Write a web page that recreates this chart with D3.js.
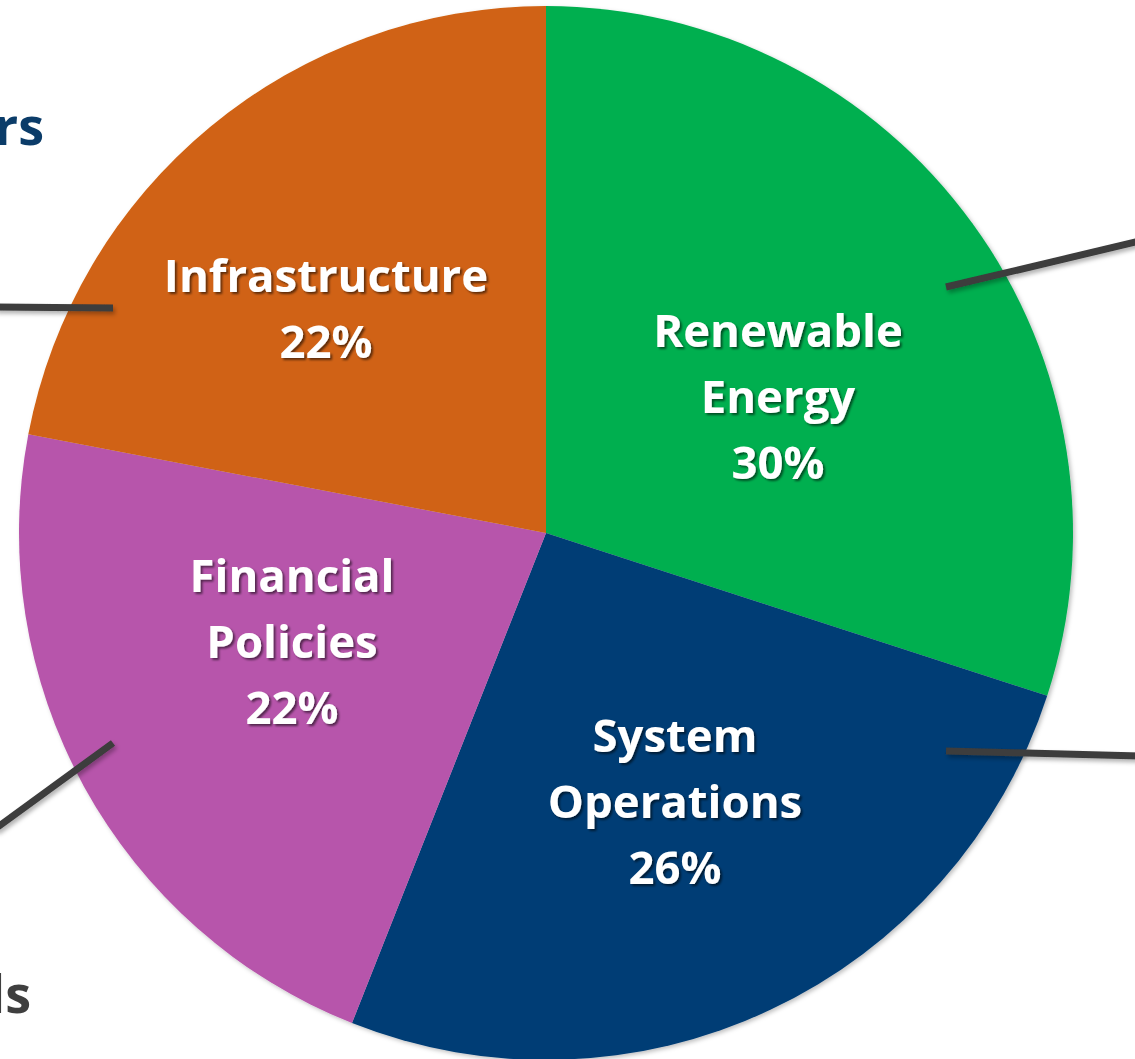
<!DOCTYPE html>
<html><head><meta charset="utf-8">
<script src="https://cdn.jsdelivr.net/npm/d3@7"></script>
<style>html,body{margin:0;padding:0;background:#fff;overflow:hidden}</style>
</head><body>
<svg id="chart" width="1135" height="1059"></svg>
<script>
const categories = ["Renewable Energy", "System Operations", "Financial Policies", "Infrastructure"];
const values = [30, 26, 22, 22];
const labelLines = [["Renewable", "Energy", "30%"], ["System", "Operations", "26%"], ["Financial", "Policies", "22%"], ["Infrastructure", "22%"]];
const colors = ["#00AF50", "#003D74", "#B754AB", "#D06212"];
// leader lines toward off-canvas callouts: [x1,y1,x2,y2]
const leaders = [[946, 287, 1140, 241], [946, 751, 1140, 756], [113, 308, -5, 307], [113, 743, -5, 829]];
const sideTexts = [{t: "Drivers", x: 44, y: 145, c: "#0B3C69"}, {t: "Goals", x: 31, y: 1013, c: "#3F3F3F"}];

const svg = d3.select("#chart");
const defs = svg.append("defs");
const f1 = defs.append("filter").attr("id", "pieShadow").attr("x", "-10%").attr("y", "-10%").attr("width", "120%").attr("height", "120%");
f1.append("feDropShadow").attr("dx", 2).attr("dy", 2).attr("stdDeviation", 2).attr("flood-color", "#000").attr("flood-opacity", 0.25);
const f2 = defs.append("filter").attr("id", "txtShadow").attr("x", "-10%").attr("y", "-20%").attr("width", "130%").attr("height", "150%");
f2.append("feDropShadow").attr("dx", 2).attr("dy", 2).attr("stdDeviation", 1.2).attr("flood-color", "#000").attr("flood-opacity", 0.55);
const f3 = defs.append("filter").attr("id", "lineShadow").attr("x", "-10%").attr("y", "-50%").attr("width", "120%").attr("height", "200%");
f3.append("feDropShadow").attr("dx", 2).attr("dy", 3).attr("stdDeviation", 2).attr("flood-color", "#000").attr("flood-opacity", 0.3);

const cx = 546, cy = 533, r = 527;
const pie = d3.pie().sort(null).value(d => d)(values);
const arc = d3.arc().innerRadius(0).outerRadius(r);

const g = svg.append("g").attr("transform", `translate(${cx},${cy})`);
g.append("g").attr("filter", "url(#pieShadow)").selectAll("path").data(pie).join("path")
  .attr("d", arc).attr("fill", (d, i) => colors[i]);

// side text (cropped callouts)
svg.selectAll("text.side").data(sideTexts).join("text").attr("class", "side")
  .attr("x", d => d.x).attr("y", d => d.y).attr("text-anchor", "end")
  .attr("font-family", "'Open Sans', Lato, sans-serif").attr("font-weight", 700).attr("font-size", 52)
  .attr("fill", d => d.c).text(d => d.t);

// leader lines
svg.append("g").attr("filter", "url(#lineShadow)").selectAll("line").data(leaders).join("line")
  .attr("x1", d => d[0]).attr("y1", d => d[1]).attr("x2", d => d[2]).attr("y2", d => d[3])
  .attr("stroke", "#3C3C3C").attr("stroke-width", 7);

// labels
const labelPos = [[778, 347], [675, 752], [292, 592], [326, 292]];
const lineH = 66;
const lg = svg.append("g").attr("filter", "url(#txtShadow)");
labelLines.forEach((lines, i) => {
  const t = lg.append("text").attr("text-anchor", "middle")
    .attr("font-family", "'Open Sans', Lato, sans-serif").attr("font-weight", 700).attr("font-size", 45.5)
    .attr("fill", "#fff");
  lines.forEach((s, j) => t.append("tspan").attr("x", labelPos[i][0]).attr("y", labelPos[i][1] + j * lineH).text(s));
});
</script>
</body></html>
